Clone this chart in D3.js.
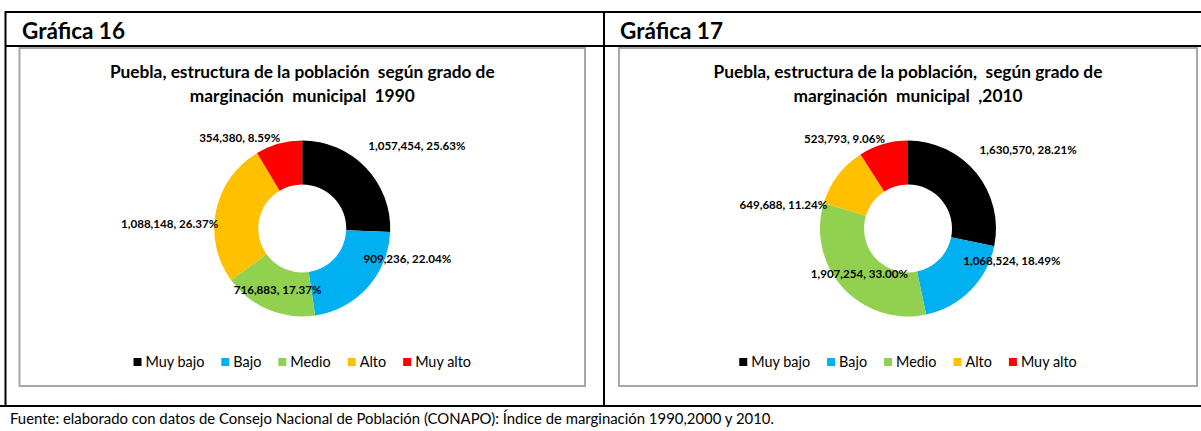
<!DOCTYPE html>
<html>
<head>
<meta charset="utf-8">
<script src="https://cdn.jsdelivr.net/npm/d3@7"></script>
<style>
  body { margin: 0; background: #fff; }
  svg { display: block; font-family: Lato, "Open Sans", sans-serif; }
</style>
</head>
<body>
<div id="viz"></div>
<script>
// datos
var categories = ["Muy bajo", "Bajo", "Medio", "Alto", "Muy alto"];
var colors = ["#000000", "#00B0F0", "#92D050", "#FFC000", "#FF0000"];
var pop1990 = [1057454, 909236, 716883, 1088148, 354380];
var pct1990 = ["25.63%", "22.04%", "17.37%", "26.37%", "8.59%"];
var pop2010 = [1630570, 1068524, 1907254, 649688, 523793];
var pct2010 = ["28.21%", "18.49%", "33.00%", "11.24%", "9.06%"];
var titles1990 = ["Puebla, estructura de la población  según grado de", "marginación  municipal  1990"];
var titles2010 = ["Puebla, estructura de la población,  según grado de", "marginación  municipal  ,2010"];
var headers = ["Gráfica 16", "Gráfica 17"];
var fuente = "Fuente: elaborado con datos de Consejo Nacional de Población (CONAPO): Índice de marginación 1990,2000 y 2010.";

var width = 1201, height = 431;

var svg = d3.select("#viz").append("svg")
    .attr("width", width)
    .attr("height", height);

// marco de la tabla
var frame = svg.append("g").attr("stroke", "#000").attr("stroke-width", 2);
frame.append("line").attr("x1", 5).attr("x2", width).attr("y1", 12).attr("y2", 12);
frame.append("line").attr("x1", 5).attr("x2", width).attr("y1", 46).attr("y2", 46);
frame.append("line").attr("x1", 0).attr("x2", width).attr("y1", 406).attr("y2", 406);
frame.append("line").attr("x1", 5.5).attr("x2", 5.5).attr("y1", 11).attr("y2", 407);
frame.append("line").attr("x1", 604).attr("x2", 604).attr("y1", 11).attr("y2", 407);

svg.append("text")
    .attr("x", 10).attr("y", 424)
    .style("font-size", "14.9px")
    .text(fuente);

var fmt = d3.format(",");

var charts = [
  {header: headers[0], titles: titles1990, values: pop1990, pct: pct1990,
   box: [19.5, 48, 565.5, 338], hx: 22,
   nudge: [[67, -37], [56, -14], [1, 1], [-68, 9], [-45, -27]]},
  {header: headers[1], titles: titles2010, values: pop2010, pct: pct2010,
   box: [619, 48, 578, 338], hx: 620,
   nudge: [[69, -37], [57, -14], [0, 1], [-72, 16], [-45, -26]]}
];

var pie = d3.pie().sort(null).value(function(d) { return d; });
var outerR = 88, innerR = 44;
var arc = d3.arc().innerRadius(innerR).outerRadius(outerR);

charts.forEach(function(c) {
  svg.append("text")
      .attr("x", c.hx).attr("y", 38.5)
      .style("font-size", "22.5px")
      .style("font-weight", "bold")
      .text(c.header);

  var bx = c.box[0], by = c.box[1], bw = c.box[2], bh = c.box[3];
  svg.append("rect")
      .attr("x", bx).attr("y", by)
      .attr("width", bw).attr("height", bh)
      .attr("fill", "#fff")
      .attr("stroke", "#a6a6a6")
      .attr("stroke-width", 2);

  var cx = bx + bw / 2;

  svg.append("g").selectAll("text")
      .data(c.titles)
    .enter().append("text")
      .attr("x", cx)
      .attr("y", function(d, i) { return 78 + i * 24; })
      .attr("text-anchor", "middle")
      .style("font-size", "17.3px")
      .style("font-weight", "bold")
      .style("white-space", "pre")
      .text(function(d) { return d; });

  var g = svg.append("g")
      .attr("transform", "translate(" + cx + ",228.5)");

  var arcs = pie(c.values);

  g.selectAll("path")
      .data(arcs)
    .enter().append("path")
      .attr("d", arc)
      .attr("fill", function(d, i) { return colors[i]; });

  g.selectAll(".lbl")
      .data(arcs)
    .enter().append("text")
      .attr("class", "lbl")
      .attr("transform", function(d, i) {
        var p = arc.centroid(d);
        return "translate(" + (p[0] + c.nudge[i][0]) + "," + (p[1] + c.nudge[i][1]) + ")";
      })
      .attr("text-anchor", "middle")
      .attr("dy", "0.35em")
      .style("font-size", "11.6px")
      .style("font-weight", "bold")
      .text(function(d, i) { return fmt(d.data) + ", " + c.pct[i]; });

  // leyenda
  var leg = svg.append("g");
  var items = leg.selectAll("g")
      .data(categories)
    .enter().append("g");
  items.append("rect")
      .attr("width", 8).attr("height", 8)
      .attr("y", -4)
      .attr("fill", function(d, i) { return colors[i]; });
  items.append("text")
      .attr("x", 12)
      .attr("dy", "0.36em")
      .style("font-size", "14.4px")
      .text(function(d) { return d; });
  var xpos = 0;
  items.each(function() {
    var w = d3.select(this).select("text").node().getComputedTextLength();
    d3.select(this).attr("transform", "translate(" + xpos + ",0)");
    xpos += 12 + w + 17;
  });
  var total = xpos - 17;
  leg.attr("transform", "translate(" + (cx - total / 2) + ",362)");
});
</script>
</body>
</html>
